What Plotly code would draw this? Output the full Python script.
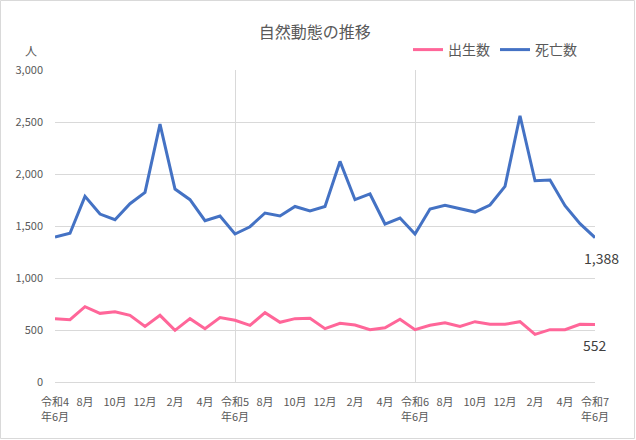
import plotly.graph_objects as go

# months 令和4年6月 .. 令和7年6月 (37 months)
months = list(range(37))
births = [609, 599, 724, 660, 676, 641, 535, 641, 497, 609, 513, 619,
          593, 545, 667, 574, 609, 612, 513, 564, 548, 503, 522, 603,
          503, 545, 570, 535, 580, 555, 555, 580, 458, 503, 503, 555, 552]
deaths = [1395, 1430, 1785, 1615, 1560, 1714, 1823, 2480, 1855, 1753, 1551, 1596,
          1423, 1493, 1625, 1596, 1688, 1645, 1688, 2121, 1753, 1808, 1519, 1577,
          1423, 1663, 1698, 1666, 1634, 1702, 1881, 2560, 1935, 1942, 1695, 1522, 1388]

tick_pos = list(range(0, 37, 2))
tick_text = ["令和4", "8月", "10月", "12月", "2月", "4月",
             "令和5", "8月", "10月", "12月", "2月", "4月",
             "令和6", "8月", "10月", "12月", "2月", "4月",
             "令和7"]
year_lines = [0, 12, 24, 36]
year_text = ["年6月", "年6月", "年6月", "年6月"]

W, H = 636, 440
ml, mr, mt, mb = 55, 41, 70, 58
pw, ph = W - ml - mr, H - mt - mb
font = "Noto Sans CJK JP"
grey = "#595959"

fig = go.Figure()
# births sit on the overlaid x2 axis (same range) so that its second label row is drawn
fig.add_trace(go.Scatter(x=months, y=births, name="出生数", mode="lines", xaxis="x2",
                         line=dict(color="#FF6699", width=3)))
fig.add_trace(go.Scatter(x=months, y=deaths, name="死亡数", mode="lines",
                         line=dict(color="#4472C4", width=3)))

for ys in (deaths, births):
    fig.add_annotation(x=months[-1], y=ys[-1], text=f"{ys[-1]:,}",
                       showarrow=False, yshift=-20, xshift=6 if ys is deaths else 0,
                       font=dict(family=font, size=14, color="#404040"))

fig.add_annotation(xref="paper", yref="paper", x=(31 - ml) / pw, y=(H - mb - 50) / ph,
                   xanchor="center", yanchor="middle",
                   text="人", showarrow=False, font=dict(family=font, size=12, color=grey))

# chart border
fig.add_shape(type="rect", xref="paper", yref="paper",
              x0=-(ml - 0.5) / pw, x1=1 + (mr - 1.5) / pw,
              y0=-(mb - 1.5) / ph, y1=1 + (mt - 0.5) / ph,
              line=dict(color="#D9D9D9", width=1))

fig.update_layout(
    width=W, height=H,
    margin=dict(l=ml, r=mr, t=mt, b=mb),
    paper_bgcolor="white", plot_bgcolor="white",
    font=dict(family=font, size=11, color=grey),
    title=dict(text="自然動態の推移", x=0.495, xanchor="center", y=1 - 32 / H, yanchor="middle",
               font=dict(family=font, size=16, color=grey)),
    legend=dict(orientation="h", x=(582 - ml) / pw, xanchor="right",
                y=(H - mb - 50) / ph, yanchor="middle",
                font=dict(family=font, size=14, color=grey), itemwidth=30,
                traceorder="normal"),
    showlegend=True,
    xaxis=dict(range=[0, 36], tickvals=tick_pos, ticktext=tick_text, tickangle=0,
               showgrid=False, zeroline=False, showline=True, linecolor="#D9D9D9",
               ticklabelstandoff=10,
               minor=dict(tickvals=year_lines, showgrid=True, gridcolor="#D9D9D9", gridwidth=1)),
    xaxis2=dict(overlaying="x", side="bottom", anchor="y", range=[0, 36],
                tickvals=year_lines, ticktext=year_text, tickangle=0,
                showgrid=False, zeroline=False, showline=False, ticklabelstandoff=27),
    yaxis=dict(range=[0, 3000], dtick=500, tickformat=",", showgrid=True,
               gridcolor="#D9D9D9", zeroline=False, ticklabelstandoff=11),
)

fig.write_html("out.html", config={"displayModeBar": False},
               post_script="document.body.style.margin='0';")
